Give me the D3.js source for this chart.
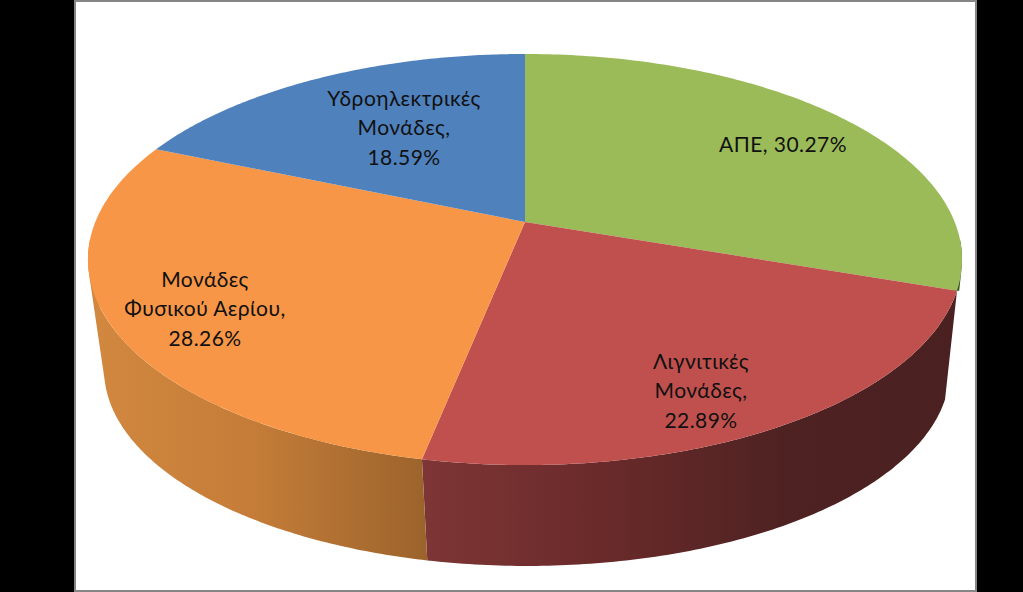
<!DOCTYPE html>
<html><head><meta charset="utf-8">
<script src="https://cdn.jsdelivr.net/npm/d3@7"></script>
<style>html,body{margin:0;padding:0;background:#000;overflow:hidden}svg{display:block}</style>
</head><body><div id="chart"></div>
<script>
const categories = ["ΑΠΕ", "Λιγνιτικές Μονάδες", "Μονάδες Φυσικού Αερίου", "Υδροηλεκτρικές Μονάδες"];
const categoryLines = [["ΑΠΕ"], ["Λιγνιτικές", "Μονάδες"], ["Μονάδες", "Φυσικού Αερίου"], ["Υδροηλεκτρικές", "Μονάδες"]];
const values = [30.27, 22.89, 28.26, 18.59];
const topColors = ["#9bbb59", "#c0504d", "#f79646", "#4f81bd"];
const sideStops = [["#2f4a18", "#2f4a18"], ["#7e3535", "#6a2a2a", "#4f2222", "#4a2020"], ["#d2883f", "#c47c38", "#9c642c"], ["#2a4a70", "#2a4a70"]];

const W = 1023, H = 592;
const svg = d3.select("#chart").append("svg").attr("width", W).attr("height", H);
const defs = svg.append("defs");
svg.append("rect").attr("width", W).attr("height", H).attr("fill", "#000");
svg.append("rect").attr("x", 75).attr("y", 1).attr("width", 901).attr("height", 590)
  .attr("fill", "#fff").attr("stroke", "#868686").attr("stroke-width", 2);

// perspective projection of the disc
const K = -0.1825;
const topDisc = {cx: 525, cy: 222, a: 429.7, b: 198.7};
const botDisc = {cx: 527, cy: 334, a: 415.8, b: 189.6};
const project = (disc, ang) => {
  const X = Math.sin(ang), Y = -Math.cos(ang), d = 1 + K * Y;
  return [disc.cx + disc.a * X / d, disc.cy + disc.b * Y / d];
};
const pie = d3.pie().sort(null).startAngle(0).endAngle(2 * Math.PI);
const arcs = pie(values);
const color = d3.scaleOrdinal().domain(categories).range(topColors);
const line = d3.line();
const STEPS = 120;
const rim = (disc, a0, a1) => d3.range(0, STEPS + 1).map(i => project(disc, a0 + (a1 - a0) * i / STEPS));

const xExtent = d3.scaleLinear().domain([0, 1]).range([88, 962]);
categories.forEach((c, i) => {
  const stops = sideStops[i];
  const g = defs.append("linearGradient").attr("id", "side" + i)
    .attr("gradientUnits", "userSpaceOnUse")
    .attr("x1", i === 2 ? xExtent(0) : 423).attr("x2", i === 2 ? 423 : xExtent(1))
    .attr("y1", 0).attr("y2", 0);
  stops.forEach((s, j) => g.append("stop").attr("offset", j / (stops.length - 1)).attr("stop-color", s));
});

// the first slice only shows a short sliver above the point where it meets the next slice
defs.append("clipPath").attr("id", "sliver").append("rect")
  .attr("x", 0).attr("y", 0).attr("width", W).attr("height", project(topDisc, arcs[0].endAngle)[1]);

// sides: only the part of the rim that faces the viewer, as same-winding quads in one path
const toRad = d3.scaleLinear().domain([0, 360]).range([0, 2 * Math.PI]);
const frontStart = toRad(95), frontEnd = toRad(265);
arcs.forEach((a, i) => {
  const a0 = Math.max(a.startAngle, frontStart), a1 = Math.min(a.endAngle, frontEnd);
  if (a1 <= a0) return;
  const top = rim(topDisc, a0, a1), bot = rim(botDisc, a0, a1);
  const d = d3.range(STEPS).map(j => {
    const q = [top[j], top[j + 1], bot[j + 1], bot[j]];
    return line(d3.polygonArea(q) < 0 ? q.reverse() : q) + "Z";
  }).join("");
  const p = svg.append("path").attr("d", d).attr("fill", `url(#side${i})`);
  if (i === 0) p.attr("clip-path", "url(#sliver)");
});

// top face
arcs.forEach((a, i) => {
  svg.append("path")
    .attr("d", line([[topDisc.cx, topDisc.cy], ...rim(topDisc, a.startAngle, a.endAngle)]) + "Z")
    .attr("fill", color(categories[i]));
});

// labels
const labelAnchors = [[783, 145], [701, 362], [205, 280], [404, 99]];
const fmt = d3.format(".2f");
const labelLines = categoryLines.map((l, i) => l.length === 1
  ? [`${l[0]}, ${fmt(values[i])}%`]
  : [...l.slice(0, -1), l[l.length - 1] + ",", fmt(values[i]) + "%"]);
labelLines.forEach((lines, i) => {
  const t = svg.append("text").attr("text-anchor", "middle")
    .attr("font-family", "Lato, 'Noto Sans', sans-serif").attr("font-size", 21).attr("letter-spacing", 0.45).attr("fill", "#111");
  lines.forEach((s, j) => t.append("tspan").attr("x", labelAnchors[i][0])
    .attr("y", labelAnchors[i][1] + 7 + j * 29.3).text(s));
});
</script></body></html>
